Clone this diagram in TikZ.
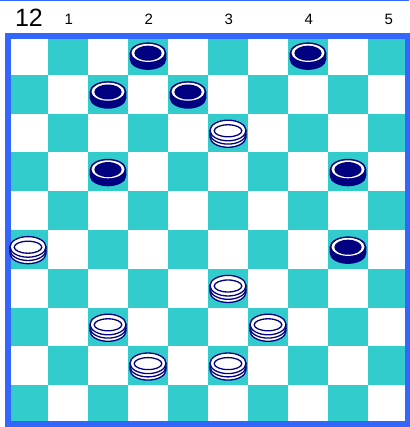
\documentclass[tikz,border=0pt]{standalone}
\usepackage{fontspec}
\setmainfont{Liberation Sans}
\definecolor{boardteal}{RGB}{51,204,204}
\definecolor{boardblue}{RGB}{51,102,255}
\definecolor{mannavy}{RGB}{0,0,128}

\tikzset{
  darksquare/.style={fill=boardteal},
  manline/.style={draw=mannavy, line width=1.3pt},
  darkman/.pic={
    \fill[mannavy] (-18.3,2.5) -- (-18.3,-4)
      arc[start angle=180, end angle=360, x radius=18.3pt, y radius=10.5pt]
      -- (18.3,2.5) -- cycle;
    \fill[mannavy] (0,2.5) ellipse[x radius=18.3pt, y radius=10.5pt];
    \fill[white] (0,2.5) ellipse[x radius=16.5pt, y radius=9pt];
    \fill[mannavy] (0,2.2) ellipse[x radius=13.7pt, y radius=7.5pt];
  },
  lightman/.pic={
    \filldraw[fill=white, manline] (-18,2.5) -- (-18,-4)
      arc[start angle=180, end angle=360, x radius=18pt, y radius=10.3pt]
      -- (18,2.5) -- cycle;
    \draw[manline] (-18,-0.8)
      arc[start angle=180, end angle=360, x radius=18pt, y radius=10.3pt];
    \filldraw[fill=white, manline] (0,2.5) ellipse[x radius=18pt, y radius=10.3pt];
    \draw[manline] (0,2.2) ellipse[x radius=13.8pt, y radius=6pt];
  }
}

\begin{document}
\begin{tikzpicture}[x=1pt, y=1pt]
    \useasboundingbox (0,0) rectangle (409,427);

    % Top rule
    \draw[boardblue, line width=1pt] (0,426.5) -- (409,426.5);

    % Move number and column numbers
    \node[font=\fontsize{25}{25}\selectfont] (movenum) at (29,409.5) {12};
    \foreach \n in {1,...,5}
        \node[font=\fontsize{15}{15}\selectfont] (col\n) at (68.7+80*\n-80,407.5) {\n};

    % Squares
    \foreach \r in {0,...,9}
        \foreach \c in {0,...,9} {
            \pgfmathtruncatemacro{\odd}{mod(\r+\c,2)}
            \ifnum\odd=1
                \fill[darksquare] (8+40*\c,391-38.8*\r) rectangle ++(40,-38.8);
            \fi
        }

    % Frame
    \draw[boardblue, line width=6pt] (8,3) rectangle (408,391);

    % Dark men
    \foreach \r/\c in {0/3,0/7,1/2,1/4,3/2,3/8,5/8}
        \pic (dark-\r-\c) at (28+40*\c,371.6-38.8*\r) {darkman};

    % Light men
    \foreach \r/\c in {2/5,5/0,6/5,7/2,7/6,8/3,8/5}
        \pic (light-\r-\c) at (28+40*\c,371.6-38.8*\r) {lightman};
\end{tikzpicture}
\end{document}
